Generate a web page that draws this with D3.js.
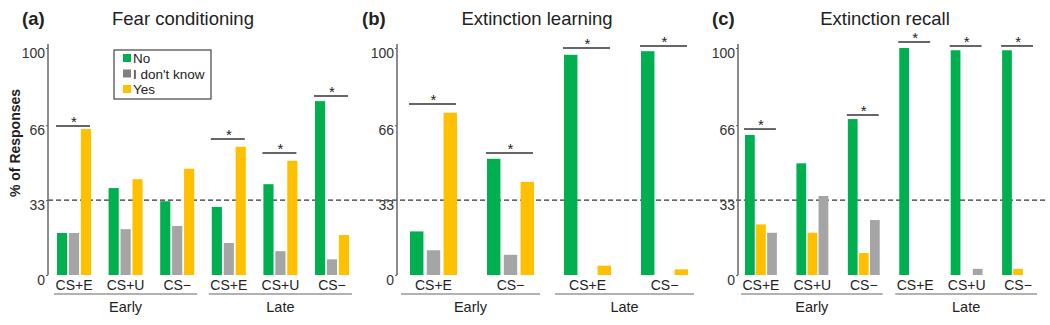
<!DOCTYPE html>
<html>
<head>
<meta charset="utf-8">
<script src="https://cdn.jsdelivr.net/npm/d3@7"></script>
<style>
  body { margin: 0; background: #fff; }
  svg { font-family: 'Liberation Sans', Arial, sans-serif; }
</style>
</head>
<body>
<div id="chart"></div>
<script>
'use strict';

const seriesNames = ['No', "I don't know", 'Yes'];
const seriesColors = { 'No': '#00b050', "I don't know": '#a5a5a5', 'Yes': '#ffc000' };
const legendColors = { 'No': '#00b050', "I don't know": '#808080', 'Yes': '#ffc000' };
const yTicks = [0, 33, 66, 100];
const chanceLevel = 33;
const phases = ['Early', 'Late'];

// (a) fear conditioning
const fearGroups = ['CS+E', 'CS+U', 'CS−', 'CS+E', 'CS+U', 'CS−'];
const fearPhase = ['Early', 'Early', 'Early', 'Late', 'Late', 'Late'];
const fearNo = [18.5, 38.3, 32.5, 30, 40, 76.6];
const fearDontKnow = [18.5, 20.2, 21.6, 14.1, 10.5, 6.9];
const fearYes = [64.3, 42.2, 46.8, 56.5, 50.3, 17.6];
const fearSig = [65.6, null, null, 59.9, 53.7, 78.9];

// (b) extinction learning
const learnGroups = ['CS+E', 'CS−', 'CS+E', 'CS−'];
const learnPhase = ['Early', 'Early', 'Late', 'Late'];
const learnNo = [19.2, 51.2, 97, 98.6];
const learnDontKnow = [10.9, 8.9, 0, 0];
const learnYes = [71.5, 41, 4.1, 2.5];
const learnSig = [75.3, 53.7, 100, 100.9];

// (c) extinction recall (yellow before gray here)
const recallGroups = ['CS+E', 'CS+U', 'CS−', 'CS+E', 'CS+U', 'CS−'];
const recallPhase = ['Early', 'Early', 'Early', 'Late', 'Late', 'Late'];
const recallNo = [61.7, 49.2, 68.7, 100, 99, 99];
const recallYes = [22.3, 18.6, 9.7, 0, 0, 2.7];
const recallDontKnow = [18.6, 34.8, 24.2, 0, 2.7, 0];
const recallSig = [64.3, null, 70.5, 102.6, 100.9, 100.9];

const width = 1050, height = 325;

const svg = d3.select('#chart')
    .append('svg')
    .attr('width', width)
    .attr('height', height);

const y = d3.scaleLinear().domain([0, 100]).range([275, 48]);

const panels = [
    {
        letter: '(a)', title: 'Fear conditioning', letterX: 22, titleX: 183, axisX: 48,
        range: [57, 349], pad: 0.341, innerPad: 0.15, phasePad: [3, 3],
        groups: fearGroups, phase: fearPhase, order: ['No', "I don't know", 'Yes'],
        values: { 'No': fearNo, "I don't know": fearDontKnow, 'Yes': fearYes },
        sig: fearSig, legend: true
    },
    {
        letter: '(b)', title: 'Extinction learning', letterX: 362, titleX: 537, axisX: 397,
        range: [410, 688], pad: 0.39, innerPad: 0.2, phasePad: [9, 6],
        groups: learnGroups, phase: learnPhase, order: ['No', "I don't know", 'Yes'],
        values: { 'No': learnNo, "I don't know": learnDontKnow, 'Yes': learnYes },
        sig: learnSig
    },
    {
        letter: '(c)', title: 'Extinction recall', letterX: 712, titleX: 885, axisX: 738,
        range: [745, 1034], pad: 0.38, innerPad: 0.12, phasePad: [4, 3],
        groups: recallGroups, phase: recallPhase, order: ['No', 'Yes', "I don't know"],
        values: { 'No': recallNo, 'Yes': recallYes, "I don't know": recallDontKnow },
        sig: recallSig
    }
];

// chance line across all panels
svg.append('line')
    .attr('x1', 48).attr('x2', 1046)
    .attr('y1', y(chanceLevel)).attr('y2', y(chanceLevel))
    .attr('stroke', '#333')
    .attr('stroke-width', 1.2)
    .attr('stroke-dasharray', '5,3');

panels.forEach(p => {
    const g = svg.append('g');
    const idx = d3.range(p.groups.length);

    const x = d3.scaleBand().domain(idx).range(p.range).paddingInner(p.pad).paddingOuter(0);
    const xi = d3.scaleBand().domain(p.order).range([0, x.bandwidth()]).paddingInner(p.innerPad);

    g.append('text')
        .attr('x', p.letterX).attr('y', 25)
        .attr('font-size', 18.5).attr('font-weight', 'bold').attr('fill', '#222')
        .text(p.letter);

    g.append('text')
        .attr('x', p.titleX).attr('y', 25)
        .attr('text-anchor', 'middle')
        .attr('font-size', 18.5).attr('fill', '#222')
        .text(p.title);

    const axis = g.append('g')
        .attr('transform', `translate(${p.axisX},0)`)
        .call(d3.axisLeft(y).tickValues(yTicks).tickSize(2).tickSizeOuter(0).tickPadding(1));
    axis.select('.domain').attr('stroke', '#666').attr('stroke-width', 1.5)
        .attr('d', `M0,44V${y(0)}`);
    axis.selectAll('.tick line').attr('stroke', '#666');
    axis.selectAll('.tick text')
        .attr('font-size', 14).attr('fill', '#333')
        .attr('font-family', "'Liberation Sans', Arial, sans-serif")
        .attr('dy', '0.65em');

    const bars = [];
    idx.forEach(i => p.order.forEach(s => bars.push({ i, s, v: p.values[s][i] })));

    g.selectAll('rect.bar')
        .data(bars.filter(d => d.v > 0))
        .join('rect')
        .attr('class', 'bar')
        .attr('x', d => x(d.i) + xi(d.s))
        .attr('width', xi.bandwidth())
        .attr('y', d => y(d.v))
        .attr('height', d => y(0) - y(d.v))
        .attr('fill', d => seriesColors[d.s]);

    // significance brackets
    const sig = idx.filter(i => p.sig[i] != null);
    g.selectAll('line.sig')
        .data(sig)
        .join('line')
        .attr('class', 'sig')
        .attr('x1', i => x(i) - 1).attr('x2', i => x(i) + x.bandwidth() - 1)
        .attr('y1', i => y(p.sig[i])).attr('y2', i => y(p.sig[i]))
        .attr('stroke', '#333').attr('stroke-width', 1.5);
    g.selectAll('text.star')
        .data(sig)
        .join('text')
        .attr('class', 'star')
        .attr('x', i => x(i) + x.bandwidth() / 2)
        .attr('y', i => y(p.sig[i]) + 1)
        .attr('text-anchor', 'middle')
        .attr('font-size', 15).attr('fill', '#222')
        .text('*');

    // category labels
    g.selectAll('text.cat')
        .data(idx)
        .join('text')
        .attr('class', 'cat')
        .attr('x', i => x(i) + x.bandwidth() / 2)
        .attr('y', 290)
        .attr('text-anchor', 'middle')
        .attr('font-size', 14).attr('fill', '#222')
        .text(i => p.groups[i]);

    // phase brackets
    phases.forEach(ph => {
        const members = idx.filter(i => p.phase[i] === ph);
        const x0 = x(members[0]) - p.phasePad[0];
        const x1 = x(members[members.length - 1]) + x.bandwidth() + p.phasePad[1];
        g.append('line')
            .attr('x1', x0).attr('x2', x1)
            .attr('y1', 294).attr('y2', 294)
            .attr('stroke', '#999').attr('stroke-width', 1.5);
        g.append('text')
            .attr('x', (x0 + x1) / 2).attr('y', 312)
            .attr('text-anchor', 'middle')
            .attr('font-size', 14.5).attr('fill', '#222')
            .text(ph);
    });

    if (p.legend) {
        const lg = g.append('g').attr('transform', 'translate(114,50)');
        lg.append('rect')
            .attr('width', 97).attr('height', 49)
            .attr('fill', '#fff').attr('stroke', '#444').attr('stroke-width', 1.2);
        const items = lg.selectAll('g.item')
            .data(seriesNames)
            .join('g')
            .attr('class', 'item')
            .attr('transform', (d, k) => `translate(9,${8 + k * 15.5})`);
        items.append('rect')
            .attr('y', -4).attr('width', 8).attr('height', 8)
            .attr('fill', d => legendColors[d]);
        items.append('text')
            .attr('x', 10).attr('y', 5)
            .attr('font-size', 13.5).attr('fill', '#222')
            .text(d => d);
    }
});

// y axis title
svg.append('text')
    .attr('transform', 'translate(20,143) rotate(-90)')
    .attr('text-anchor', 'middle')
    .attr('font-size', 14).attr('font-weight', 'bold').attr('fill', '#222')
    .text('% of Responses');
</script>
</body>
</html>
